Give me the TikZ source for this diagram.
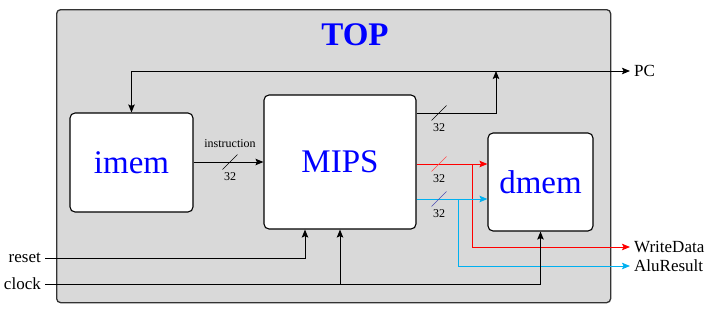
\documentclass[tikz,border=0pt]{standalone}
\usepackage{fontspec}
\setmainfont{Liberation Serif}
\usetikzlibrary{arrows.meta}
\definecolor{panelgray}{HTML}{D9D9D9}
\definecolor{panelborder}{HTML}{333333}
\definecolor{aluline}{HTML}{00B0F0}
\tikzset{
  unit/.style={draw=black, line width=1.1pt, fill=white, rounded corners=5pt,
    text=blue, font=\fontsize{33}{36}\selectfont, inner sep=0pt},
  wire/.style={line width=1pt, -{Stealth[length=8pt,width=6.5pt,inset=1.5pt]}},
  plain/.style={line width=1pt},
  port/.style={font=\fontsize{17}{19}\selectfont, inner sep=4pt, text=black},
  buslabel/.style={font=\fontsize{12}{14}\selectfont, inner sep=0pt, text=black},
  bus/.pic={
    \draw[line width=0.6pt, pic actions] (-7.5,7.5) -- (7.5,-7.5);
    \node[buslabel] at (0,15) {32};
  }
}
\begin{document}
\begin{tikzpicture}[x=1pt, y=-1pt]
  \useasboundingbox (0,0) rectangle (718,311);

  % enclosing module
  \node[draw=panelborder, line width=1.3pt, fill=panelgray, rounded corners=4pt,
        minimum width=554pt, minimum height=293pt, anchor=north west, inner sep=0pt]
        (top) at (56,9) {};
  \node[text=blue, font=\bfseries\fontsize{33}{36}\selectfont] (title) at (355,35) {TOP};

  % sub-modules
  \node[unit, minimum width=123pt, minimum height=99pt] (imem) at (131.5,162.5) {imem};
  \node[unit, minimum width=152pt, minimum height=134pt] (mips) at (340,162) {MIPS};
  \node[unit, minimum width=105pt, minimum height=98pt] (dmem) at (540.5,182) {dmem};

  % ports
  \node[port, anchor=west] (pc) at (630,71) {PC};
  \node[port, anchor=west] (wd) at (630,247) {WriteData};
  \node[port, anchor=west] (ar) at (630,266) {AluResult};
  \node[port, anchor=east] (reset) at (45,258) {reset};
  \node[port, anchor=east] (clock) at (45,284) {clock};

  \coordinate (pcy) at (0,71);
  \coordinate (pcj) at (496,113);
  \coordinate (wdj) at (472,164);
  \coordinate (arj) at (458,199);

  % program counter
  \draw[plain, {Stealth[length=8pt,width=6.5pt,inset=1.5pt]}-{Stealth[length=8pt,width=6.5pt,inset=1.5pt]}]
    (imem.north) |- (pc.west);
  \draw[wire] (mips.east |- pcj) -- (pcj) -- (pcj |- pcy);
  \pic at (439,113) {bus};

  % instruction bus
  \draw[wire] (mips.west -| imem.east) -- (mips.west);
  \pic at (230,162) {bus};
  \node[buslabel] (instr) at (230,144) {instruction};

  % write data
  \draw[wire, red] (mips.east |- wdj) -- (dmem.west |- wdj);
  \draw[wire, red] (wdj) |- (wd.west);
  \pic[draw=red!70] at (439,164) {bus};

  % alu result
  \draw[wire, aluline] (mips.east |- arj) -- (dmem.west |- arj);
  \draw[wire, aluline] (arj) |- (ar.west);
  \pic[draw=blue!40!gray] at (439,199) {bus};

  % reset and clock
  \draw[wire] (reset.east) -| ([xshift=-35pt]mips.south);
  \draw[plain] (clock.east) -- (dmem.south |- clock.east);
  \draw[wire] (dmem.south |- clock.east) -- (dmem.south);
  \draw[wire] (mips.south |- clock.east) -- (mips.south);
\end{tikzpicture}
\end{document}
